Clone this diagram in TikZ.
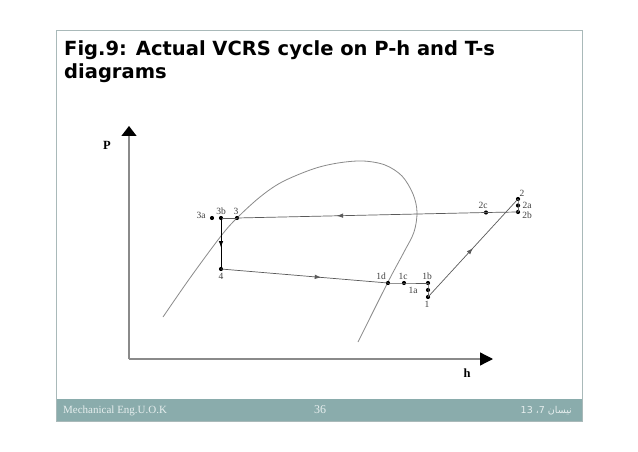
\documentclass[tikz,border=0pt]{standalone}
\usepackage{fontspec}
\setmainfont{Liberation Serif}
\newfontfamily\titlefont{DejaVu Sans}
\newfontfamily\arabicfont[Script=Arabic]{DejaVu Sans}
\TeXXeTstate=1
\usetikzlibrary{arrows.meta,decorations.markings}
\definecolor{framecol}{HTML}{A9B9B9}
\definecolor{footcol}{HTML}{8AACAC}
\definecolor{foottext}{HTML}{E6EEEE}
\definecolor{linecol}{HTML}{5A5A5A}
\definecolor{axiscol}{HTML}{8A8A8A}
\begin{document}
\begin{tikzpicture}[x=1pt,y=-1pt,
  dot/.style={circle,fill=black,inner sep=0pt,minimum size=4.2pt},
  lbl/.style={font=\fontsize{9.5}{10}\selectfont,text=black!75,inner sep=0pt},
  cyc/.style={draw=linecol,line width=0.7pt},
  curv/.style={draw=axiscol,line width=0.8pt},
  axis/.style={draw=axiscol,line width=1.3pt},
  midarr/.style={postaction={decorate},decoration={markings,mark=at position #1 with {\arrow{Latex[length=6.5pt,width=4.5pt]}}}},
  ttl/.style={font=\titlefont\bfseries\fontsize{19.5}{21}\selectfont,anchor=base west,inner sep=0pt},
  foot/.style={font=\fontsize{11}{11}\selectfont,text=foottext,inner sep=0pt,anchor=base}
]
\useasboundingbox (0,0) rectangle (638,452);
\fill[white] (0,0) rectangle (638,452);
% frame and footer
\fill[footcol] (56,399) rectangle (582,421);
\draw[framecol,line width=0.9pt] (56,30) rectangle (582,421);
% title
\node[ttl] (t1) at (64,56) {Fig.9: Actual VCRS cycle on P-h and T-s};
\node[ttl] (t2) at (64,79) {diagrams};
% footer texts
\node[foot,anchor=base west] (f1) at (63,413) {Mechanical Eng.U.O.K};
\node[foot,font=\fontsize{12}{12}\selectfont] (f2) at (320,413) {36};
\node[foot,anchor=base east,font=\arabicfont\fontsize{9.5}{9.5}\selectfont] (f3) at (572,413) {\beginR نيسان 7، \beginL 13\endL\endR};
% axes
\coordinate (O) at (129,359);
\coordinate (Ptop) at (129,126);
\coordinate (Hend) at (493,359);
\draw[axis,-{Triangle[length=10pt,width=15pt,color=black]}] (O) -- (Ptop);
\draw[axis,-{Triangle[length=13pt,width=13pt,color=black]}] (O) -- (Hend);
\node[font=\bfseries\fontsize{12.5}{12.5}\selectfont] (Plab) at (107,145) {P};
\node[font=\bfseries\fontsize{12.5}{12.5}\selectfont] (Hlab) at (467,373) {h};
% saturation dome
\draw[curv] plot[smooth,tension=0.55] coordinates {(163,317) (190,278) (221,236) (237,218) (260,197) (282,182) (313,169) (338,163) (363,161) (385,165) (402,176) (413,194) (417,212) (414,232) (404,252) (388,282) (358,342)};
% state points
\node[dot] (p3a) at (212,218) {};
\node[dot] (p3b) at (221,218) {};
\node[dot] (p3) at (237,218) {};
\node[dot] (p4) at (221,269) {};
\node[dot] (p1d) at (388,283) {};
\node[dot] (p1c) at (404,283) {};
\node[dot] (p1b) at (428,283) {};
\node[dot] (p1a) at (428,290) {};
\node[dot] (p1) at (428,297) {};
\node[dot] (p2) at (518,199) {};
\node[dot] (p2a) at (518,205.5) {};
\node[dot] (p2b) at (518,212) {};
\node[dot] (p2c) at (486,212.5) {};
% labels
\node[lbl] (l3a) at (201,215.5) {3a};
\node[lbl] (l3b) at (221,211) {3b};
\node[lbl] (l3) at (236,211) {3};
\node[lbl] (l4) at (221,276.5) {4};
\node[lbl] (l1d) at (381,276) {1d};
\node[lbl] (l1c) at (403,276) {1c};
\node[lbl] (l1b) at (427,276) {1b};
\node[lbl] (l1a) at (413,290) {1a};
\node[lbl] (l1) at (427,304.5) {1};
\node[lbl] (l2) at (522,193) {2};
\node[lbl] (l2a) at (527,205) {2a};
\node[lbl] (l2b) at (527,215) {2b};
\node[lbl] (l2c) at (483,205) {2c};
% cycle lines
\draw[cyc] (p2b.center) -- (p2c.center);
\draw[cyc,midarr=0.6] (p2c.center) -- (p3.center);
\draw[cyc] (p3.center) -- (p3b.center);
\draw[draw=black,line width=0.8pt,midarr=0.58] (p3b.center) -- (p4.center);
\draw[cyc,midarr=0.6] (p4.center) -- (p1d.center);
\draw[cyc] (p1d.center) -- (p1c.center) -- (p1b.center);
\draw[cyc] (p1b.center) -- (p1a.center) -- (p1.center);
\draw[cyc,midarr=0.5] (p1.center) -- (p2.center);
\draw[cyc] (p2.center) -- (p2a.center) -- (p2b.center);
\end{tikzpicture}
\end{document}
